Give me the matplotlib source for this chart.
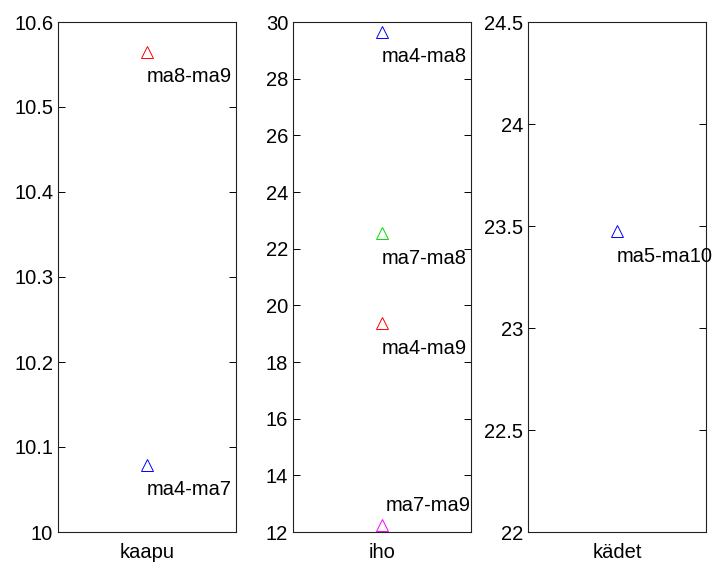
import matplotlib.pyplot as plt

plt.rcParams['font.family'] = ['Liberation Sans', 'DejaVu Sans']

# panel names and y ranges
panels = ["kaapu", "iho", "kädet"]
ylims = [(10, 10.6), (12, 30), (22, 24.5)]
ysteps = [0.1, 2, 0.5]

# values, one list per panel
kaapu_vals = [10.565, 10.079]
kaapu_labels = ["ma8-ma9", "ma4-ma7"]
kaapu_colors = ["#ff0000", "#0000ff"]

iho_vals = [29.65, 22.55, 19.37, 12.25]
iho_labels = ["ma4-ma8", "ma7-ma8", "ma4-ma9", "ma7-ma9"]
iho_colors = ["#0000ff", "#00dd00", "#ff0000", "#ff00ff"]

kadet_vals = [23.475]
kadet_labels = ["ma5-ma10"]
kadet_colors = ["#0000ff"]

data = [(kaapu_vals, kaapu_labels, kaapu_colors),
        (iho_vals, iho_labels, iho_colors),
        (kadet_vals, kadet_labels, kadet_colors)]

fig = plt.figure(figsize=(7.12, 5.70), dpi=100)

lefts = [58, 293, 528]
for i, name in enumerate(panels):
    ax = fig.add_axes([lefts[i] / 712, 38 / 570, 178 / 712, 510 / 570])
    vals, labels, colors = data[i]
    lo, hi = ylims[i]
    for v, lab, c in zip(vals, labels, colors):
        ax.plot([1], [v], marker='^', mfc='none', mec=c, ms=9, mew=0.7, ls='none')
        # label under the marker, or above it when too close to the bottom
        if (v - lo) / (hi - lo) < 0.05:
            off = (3, 14)
        else:
            off = (0, -18)
        ax.annotate(lab, (1, v), xytext=off, textcoords='offset points',
                    ha='left', va='center', fontsize=14.5)
    ax.set_xlim(0.5, 1.5)
    ax.set_ylim(lo, hi)
    n = int(round((hi - lo) / ysteps[i]))
    ticks = [lo + k * ysteps[i] for k in range(n + 1)]
    ax.set_yticks(ticks)
    ax.set_yticklabels([f"{t:g}" for t in ticks])
    ax.set_xticks([1])
    ax.set_xticklabels([name])
    ax.tick_params(axis='y', direction='in', length=5, right=True, labelsize=14.5, width=0.7)
    ax.tick_params(axis='x', length=0, labelsize=14.5, pad=8)
    for s in ax.spines.values():
        s.set_linewidth(0.8)
        s.set_color('#222222')

fig.savefig("out.png", dpi=100)
